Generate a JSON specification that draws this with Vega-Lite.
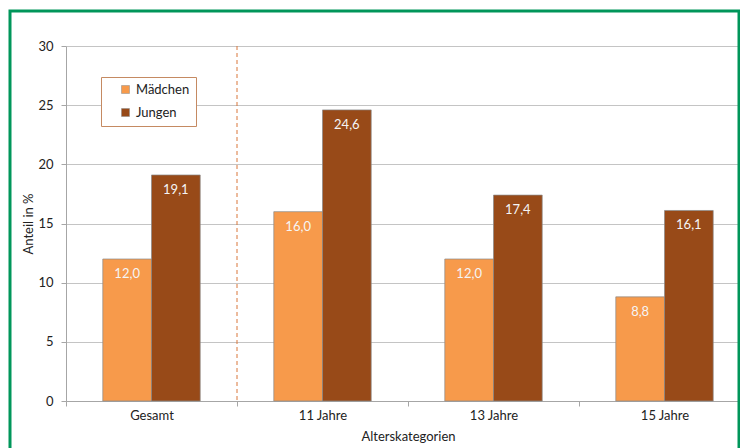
{
  "$schema": "https://vega.github.io/schema/vega-lite/v6.json",
  "width": 684,
  "height": 355,
  "autosize": {"type": "none"},
  "padding": {"left": 66, "top": 46, "right": 0, "bottom": 47},
  "background": "white",
  "config": {
    "view": {"stroke": null},
    "font": "Lato",
    "locale": {"number": {"decimal": ",", "thousands": ".", "grouping": [3], "currency": ["", " €"]}},
    "axis": {"labelColor": "#222", "titleColor": "#222", "labelFontWeight": "normal", "titleFontWeight": "normal", "labelFontSize": 13, "titleFontSize": 13, "domainColor": "#A6A6A6", "tickColor": "#A6A6A6", "gridColor": "#C4C4C4"}
  },
  "data": {
    "values": [
      {"cat": "Gesamt", "sex": "Mädchen", "value": 12.0},
      {"cat": "Gesamt", "sex": "Jungen", "value": 19.1},
      {"cat": "11 Jahre", "sex": "Mädchen", "value": 16.0},
      {"cat": "11 Jahre", "sex": "Jungen", "value": 24.6},
      {"cat": "13 Jahre", "sex": "Mädchen", "value": 12.0},
      {"cat": "13 Jahre", "sex": "Jungen", "value": 17.4},
      {"cat": "15 Jahre", "sex": "Mädchen", "value": 8.8},
      {"cat": "15 Jahre", "sex": "Jungen", "value": 16.1}
    ]
  },
  "encoding": {
    "x": {
      "field": "cat", "type": "nominal",
      "scale": {"domain": ["Gesamt", "11 Jahre", "13 Jahre", "15 Jahre"], "paddingInner": 0, "paddingOuter": 0},
      "axis": {"title": "Alterskategorien", "labelAngle": 0, "tickBand": "extent", "tickSize": 5, "labelPadding": 3, "titlePadding": 8}
    }
  },
  "layer": [
    {
      "mark": {"type": "rect", "fill": null, "stroke": "#00965A", "strokeWidth": 3},
      "data": {"values": [{"frame": 1}]},
      "encoding": {
        "x": {"value": -56},
        "x2": {"value": 673},
        "y": {"value": -35},
        "y2": {"value": 420}
      }
    },
    {
      "transform": [{"filter": "datum.cat === '11 Jahre' && datum.sex === 'Mädchen'"}],
      "mark": {"type": "rule", "color": "#D9773A", "strokeDash": [4, 3], "strokeWidth": 1},
      "encoding": {
        "x": {"field": "cat", "type": "nominal", "bandPosition": 0}
      }
    },
    {
      "mark": {"type": "bar", "stroke": "#8A8A8A", "strokeWidth": 0.7},
      "encoding": {
        "xOffset": {"field": "sex", "type": "nominal", "scale": {"domain": ["Mädchen", "Jungen"], "paddingInner": 0, "paddingOuter": 0.755}},
        "y": {
          "field": "value", "type": "quantitative",
          "scale": {"domain": [0, 30]},
          "axis": {"title": "Anteil in %", "values": [0, 5, 10, 15, 20, 25, 30], "tickSize": 5, "labelPadding": 8, "titlePadding": 2, "grid": true}
        },
        "color": {
          "field": "sex", "type": "nominal",
          "scale": {"domain": ["Mädchen", "Jungen"], "range": ["#F79A4B", "#984A18"]},
          "legend": {
            "orient": "none", "legendX": 35, "legendY": 31, "title": null,
            "symbolType": "square", "symbolSize": 64, "symbolStrokeColor": "#888", "symbolStrokeWidth": 0.5,
            "strokeColor": "#C58A62", "fillColor": "white", "padding": 6, "symbolOffset": 12,
            "labelFontSize": 13, "labelColor": "#222", "rowPadding": 9, "labelOffset": 4
          }
        }
      }
    },
    {
      "mark": {"type": "text", "color": "#F5F5F5", "fontSize": 13, "baseline": "middle", "dy": 15},
      "encoding": {
        "xOffset": {"field": "sex", "type": "nominal", "scale": {"domain": ["Mädchen", "Jungen"], "paddingInner": 0, "paddingOuter": 0.755}},
        "y": {"field": "value", "type": "quantitative"},
        "text": {"field": "value", "type": "quantitative", "format": ".1f"}
      }
    }
  ]
}
